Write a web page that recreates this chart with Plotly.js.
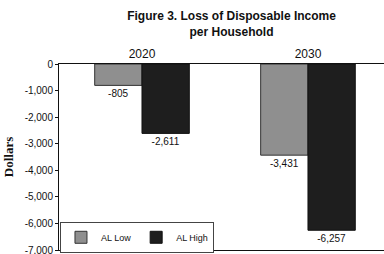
<!DOCTYPE html>
<html><head><meta charset="utf-8">
<script src="https://cdn.plot.ly/plotly-3.0.1.min.js"></script>
<style>html,body{margin:0;padding:0;background:#fff;overflow:hidden}</style>
</head><body><div id="chart" style="width:384px;height:254px"></div>
<script>
const categories = ["2020", "2030"];
const seriesNames = ["AL Low", "AL High"];
const alLow = [-805, -3431];
const alHigh = [-2611, -6257];
const yTickVals = [0, -1000, -2000, -3000, -4000, -5000, -6000, -7000];
const yTickText = ["0", "-1,000", "-2,000", "-3,000", "-4,000", "-5,000", "-6,000", "-7,000"];

const fmt = v => (v < 0 ? "-" : "") + Math.abs(v).toLocaleString("en-US");
const narrow = "'Liberation Sans Narrow', 'Arial Narrow', 'Liberation Sans', Arial, sans-serif";

const traces = [
  {type: "bar", name: seriesNames[0], x: categories, y: alLow,
   text: alLow.map(fmt), textposition: "outside", cliponaxis: false,
   textfont: {family: narrow, size: 10, color: "#111"},
   marker: {color: "#8f8f8f", line: {color: "#333", width: 1}}},
  {type: "bar", name: seriesNames[1], x: categories, y: alHigh,
   text: alHigh.map(fmt), textposition: "outside", cliponaxis: false,
   textfont: {family: narrow, size: 10, color: "#111"},
   marker: {color: "#1e1e1e", line: {color: "#111", width: 1}}}
];

const layout = {
  width: 384, height: 254,
  margin: {l: 59, r: 0, t: 64, b: 4},
  paper_bgcolor: "#fff", plot_bgcolor: "#fff",
  barmode: "group", bargap: 0.43, bargroupgap: 0,
  title: {text: "<b>Figure 3. Loss of Disposable Income<br>per Household</b>",
          x: 0.603, xanchor: "center", xref: "container",
          y: 0.92, yanchor: "middle", yref: "container",
          font: {family: narrow, size: 12, color: "#111"}},
  xaxis: {type: "category", side: "top", range: [-0.5, 1.458],
          showline: true, linecolor: "#111", linewidth: 1, mirror: true,
          ticks: "", showgrid: false, zeroline: false,
          tickfont: {family: narrow, size: 12, color: "#111"}},
  yaxis: {range: [-7000, 0], tickvals: yTickVals, ticktext: yTickText,
          showline: true, linecolor: "#111", linewidth: 1,
          ticks: "outside", ticklen: 3, tickcolor: "#111",
          ticklabeloverflow: "allow",
          showgrid: false, zeroline: false,
          tickfont: {family: narrow, size: 10, color: "#111"},
          title: {text: "<b>Dollars</b>", standoff: 8,
                  font: {family: "'Liberation Serif', 'Times New Roman', serif", size: 13, color: "#111"}}},
  showlegend: true,
  legend: {orientation: "h", x: 0.003, y: -0.015, xanchor: "left", yanchor: "bottom",
           bgcolor: "#fff", bordercolor: "#444", borderwidth: 1,
           font: {family: narrow, size: 9, color: "#111"},
           itemwidth: 30, tracegroupgap: 0}
};

Plotly.newPlot("chart", traces, layout, {displayModeBar: false, staticPlot: true});
</script></body></html>
